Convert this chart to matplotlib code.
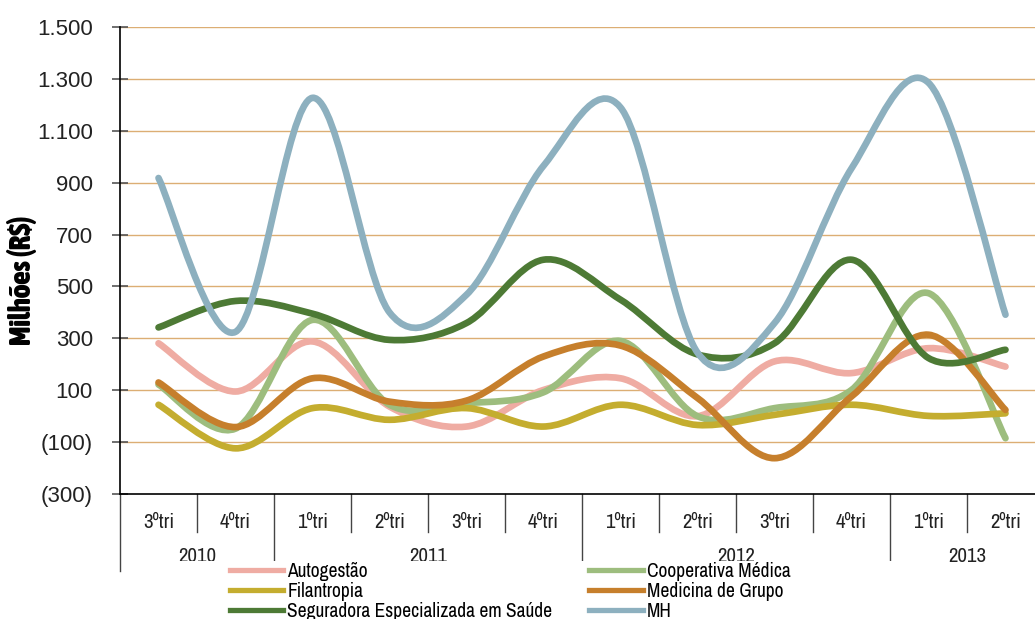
import numpy as np
import matplotlib
matplotlib.use('Agg')
import matplotlib.pyplot as plt
import matplotlib.transforms as mtransforms
from matplotlib import font_manager
from matplotlib.path import Path
from matplotlib.patches import PathPatch, Rectangle
from matplotlib.lines import Line2D

plt.rcParams['font.family'] = ['Liberation Sans', 'DejaVu Sans']

# Quarters on the x axis and the year each one belongs to
quarters = ['3ºtri', '4ºtri', '1ºtri', '2ºtri', '3ºtri', '4ºtri',
            '1ºtri', '2ºtri', '3ºtri', '4ºtri', '1ºtri', '2ºtri']
quarter_years = ['2010', '2010', '2011', '2011', '2011', '2011',
                 '2012', '2012', '2012', '2012', '2013', '2013']

# Values in millions of R$
autogestao = [281, 95, 288, 37, -40, 101, 146, 0, 211, 166, 262, 191]
cooperativa = [122, -48, 371, 44, 50, 92, 290, 0, 31, 101, 474, -85]
filantropia = [44, -124, 31, -14, 31, -40, 44, -34, 5, 44, 1, 11]
medicina = [130, -42, 146, 56, 60, 230, 272, 70, -162, 76, 314, 24]
seguradora = [342, 444, 395, 294, 359, 603, 449, 238, 281, 603, 224, 256]
mh = [918, 325, 1227, 400, 468, 965, 1190, 245, 359, 955, 1285, 391]

series_names = ['Autogestão', 'Cooperativa Médica', 'Filantropia',
                'Medicina de Grupo', 'Seguradora Especializada em Saúde', 'MH']
series_values = [autogestao, cooperativa, filantropia, medicina, seguradora, mh]
series_colors = ['#efaca3', '#9dbd7e', '#c4ad2f', '#c67f2c', '#4d7a35', '#8db0bf']

y_ticks = [-300, -100, 100, 300, 500, 700, 900, 1100, 1300, 1500]


def fmt_value(v):
    # Brazilian accounting style: dot thousands separator, negatives in parentheses
    s = f"{abs(v):,}".replace(',', '.')
    return f"({s})" if v < 0 else s


def smooth_path(xs, ys):
    # Excel-like smoothed line: cubic Bezier segments through every point
    pts = np.column_stack([xs, ys]).astype(float)
    n = len(pts)
    verts = [pts[0]]
    codes = [Path.MOVETO]
    for i in range(n - 1):
        p_prev = pts[max(i - 1, 0)]
        p0 = pts[i]
        p1 = pts[i + 1]
        p_next = pts[min(i + 2, n - 1)]
        c1 = p0 + (p1 - p_prev) / 6.0
        c2 = p1 - (p_next - p0) / 6.0
        verts += [c1, c2, p1]
        codes += [Path.CURVE4] * 3
    return Path(verts, codes)


def find_condensed(bold):
    # look for an installed narrow / condensed face (None if there is none)
    found = []
    for f in font_manager.fontManager.ttflist:
        narrow = ('Narrow' in f.name or 'Condensed' in f.name
                  or f.stretch in ('condensed', 'semi-condensed'))
        if not narrow or f.style != 'normal':
            continue
        w = f.weight if isinstance(f.weight, int) else font_manager.weight_dict.get(f.weight, 400)
        if (bold and w >= 600) or (not bold and 400 <= w < 500):
            found.append(f)
    if not found:
        return None
    found.sort(key=lambda f: ('Liberation' not in f.name, f.name))
    return found[0].fname


def props(size, bold=False):
    fname = find_condensed(bold)
    if fname:
        return font_manager.FontProperties(fname=fname, size=size)
    return font_manager.FontProperties(family='Liberation Sans',
                                       weight='bold' if bold else 'normal', size=size * 0.85)


W, H = 1035, 619
fig = plt.figure(figsize=(W / 100, H / 100), dpi=100)
ax = fig.add_axes([120 / W, (H - 494) / H, 924 / W, 467 / H])

x = np.arange(len(quarters))

# Gridlines
for t in y_ticks[1:]:
    ax.axhline(t, color='#dcae74', lw=1.0, zorder=1)

for name, vals, col in zip(series_names, series_values, series_colors):
    patch = PathPatch(smooth_path(x, vals), facecolor='none', edgecolor=col,
                      lw=4.8, capstyle='round', joinstyle='round', zorder=3)
    ax.add_patch(patch)

ax.set_xlim(-0.5, 11.5)
ax.set_ylim(-300, 1500)

ax.spines['top'].set_visible(False)
ax.spines['right'].set_visible(False)
ax.spines['left'].set_color('black')
ax.spines['bottom'].set_color('black')
ax.spines['left'].set_linewidth(1.2)
ax.spines['bottom'].set_linewidth(1.2)

ax.set_yticks(y_ticks)
ax.set_yticklabels([fmt_value(v) for v in y_ticks], fontsize=16, color='#222222')
ax.tick_params(axis='y', direction='inout', length=11, width=1.2, color='#555555', pad=14)

ax.set_xticks(x)
ax.set_xticklabels(quarters, color='#222222', fontproperties=props(15))
ax.tick_params(axis='x', length=0, pad=14)

ax.set_ylabel('Milhões (R$)', fontproperties=props(20.8, bold=True))
ax.yaxis.set_label_coords(-83 / 924, (494 - 280) / 467)

# Category separators and year groups below the axis
trans = mtransforms.blended_transform_factory(ax.transData, ax.transAxes)
for k in range(len(quarters) + 1):
    is_year_edge = k == 0 or k == len(quarters) or quarters[k] == '1ºtri'
    if k == 0:
        bottom = -77 / 467
    elif is_year_edge:
        bottom = -66 / 467
    else:
        bottom = -38 / 467
    ax.plot([k - 0.5, k - 0.5], [0, bottom], transform=trans, color='#444444',
            lw=1.0, clip_on=False, zorder=2)

for yr in dict.fromkeys(quarter_years):
    idx = [i for i, q in enumerate(quarter_years) if q == yr]
    ax.text(np.mean(idx), -63 / 467, yr, transform=trans, ha='center', va='center',
            color='#222222', fontproperties=props(15))

# White band behind the legend (it hides the lower part of the year labels)
fig.add_artist(Rectangle((124 / W, 0), (920 - 124) / W, (H - 561) / H,
                         transform=fig.transFigure, facecolor='white',
                         edgecolor='none', zorder=4))

# Legend (column-first fill: left column then right column)
order = [0, 2, 4, 1, 3, 5]
handles = [Line2D([], [], color=series_colors[i], lw=3.8) for i in order]
labels = [series_names[i] for i in order]
leg = fig.legend(handles, labels, ncol=2, loc='upper left',
                 bbox_to_anchor=(226 / W, 1 - 558 / H), prop=props(14),
                 frameon=False, handlelength=2.75, handletextpad=0.2,
                 labelspacing=0.05, columnspacing=1.9, borderpad=0.2,
                 borderaxespad=0)
leg.set_zorder(5)

fig.savefig('out.png', dpi=100)
